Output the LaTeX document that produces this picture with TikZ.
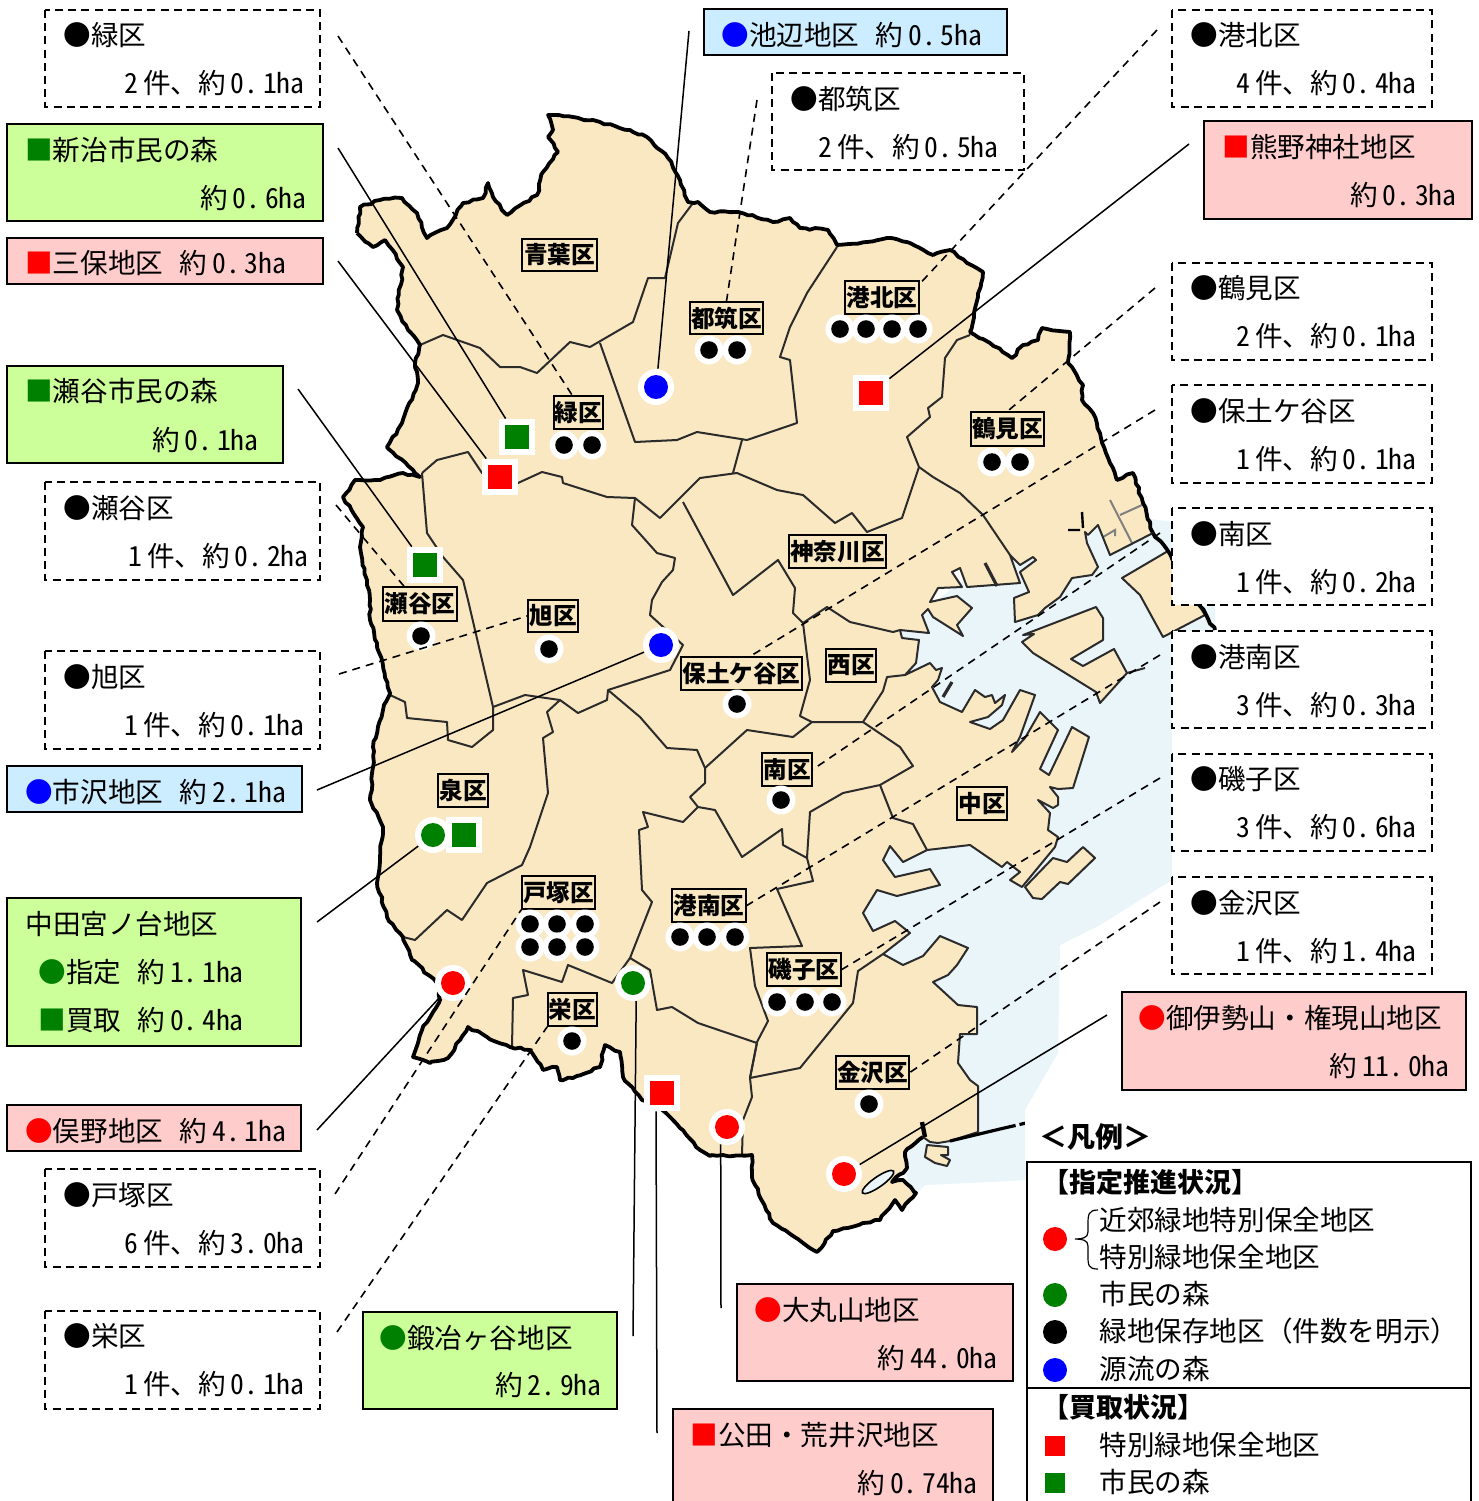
\documentclass[tikz,border=0pt]{standalone}
\usepackage{fontspec}
\usetikzlibrary{decorations.pathmorphing}
\setmainfont{Noto Sans CJK JP}
\newfontfamily\hwf[RawFeature=+hwid]{Noto Sans CJK JP}
\newcommand{\hwn}[1]{{\hwf\spaceskip=.17em\relax\xspaceskip=.17em\relax #1}}
\definecolor{landc}{HTML}{F9E8C2}
\definecolor{seac}{HTML}{EAF5FA}
\definecolor{gbox}{HTML}{CCFF99}
\definecolor{pbox}{HTML}{FFCCCC}
\definecolor{bbox}{HTML}{CCECFF}
\definecolor{mgreen}{HTML}{008000}
\definecolor{bordc}{HTML}{2B2B2B}
\tikzset{
  land/.style={fill=landc},
  coast/.style={draw=black,line width=1.9pt,line join=round,decorate,decoration={random steps,segment length=2.6pt,amplitude=.55pt}},
  thincoast/.style={draw=bordc,line width=1pt,line join=round},
  bord/.style={draw=bordc,line width=1pt,line join=round},
  conn/.style={draw=black,line width=.75pt},
  dconn/.style={draw=black,line width=.8pt,dash pattern=on 4pt off 3pt},
  dbox/.style={draw=black,line width=.8pt,dash pattern=on 4pt off 2.6pt,fill=white},
  sbox/.style={draw=black,line width=.75pt},
  txt/.style={inner sep=0pt,font=\fontsize{13.8}{16}\selectfont,text height=.99em,text depth=.01em},
  lbl/.style={draw=black,line width=.8pt,fill=landc,inner sep=0pt,font=\fontsize{11.8}{14}\bfseries\selectfont},
  dot/.style={circle,fill=white,inner sep=0pt,minimum size=14.5pt,path picture={\fill[black] (path picture bounding box.center) circle (4.4pt);}},
  bigdot/.style={circle,fill=white,inner sep=0pt,minimum size=18pt,path picture={\fill[#1] (path picture bounding box.center) circle (6pt);}},
  sqm/.style={rectangle,fill=white,inner sep=0pt,minimum size=18pt,path picture={\fill[#1] ([xshift=-6pt,yshift=-6pt]path picture bounding box.center) rectangle ([xshift=6pt,yshift=6pt]path picture bounding box.center);}},
}
\def\coastN{(357,233) -- (360,207) -- (380,200) -- (402,198) -- (417,213) -- (427,238) -- (447,228) -- (463,203) -- (483,198) -- (488,183) -- (493,197) -- (507,215) -- (537,195) -- (543,172) -- (558,152) -- (548,137) -- (553,130) -- (548,115) -- (573,117) -- (600,122) -- (633,132) -- (647,137) -- (668,158) -- (680,180) -- (688,202) -- (698,202) -- (710,212) -- (738,212) -- (773,222) -- (790,218) -- (800,228) -- (828,230) -- (837,245) -- (867,242) -- (887,238) -- (910,243) -- (933,255) -- (950,250) -- (967,263) -- (983,272) -- (978,297) -- (970,332) -- (990,343) -- (1012,358) -- (1023,345) -- (1038,340) -- (1042,328) -- (1070,332) -- (1068,363) -- (1083,385) -- (1082,400) -- (1093,413) -- (1100,433) -- (1110,463) -- (1117,480) -- (1133,473) -- (1143,503) -- (1153,533)}
\def\harbor{(1153,533) -- (1110,555) -- (1098,525) -- (1088,535) -- (1085,532) -- (1087,543) -- (1098,567) -- (1092,575) -- (1072,578) -- (1060,597) -- (1045,608) -- (1038,615) -- (1015,622) -- (1014,598) -- (1029,592) -- (1020,572) -- (1036,560) -- (1033,557) -- (1020,565) -- (1010,555) -- (1020,583) -- (967,587) -- (960,568) -- (952,572) -- (962,587) -- (938,588) -- (930,602) -- (957,596) -- (972,608) -- (957,625) -- (963,636) -- (933,617) -- (928,609) -- (922,615) -- (929,633) -- (900,630) -- (902,638) -- (919,640) -- (916,663) -- (905,675) -- (930,663) -- (936,670) -- (942,668) -- (938,680) -- (932,687) -- (940,702) -- (962,712) -- (975,690) -- (985,697) -- (992,695) -- (995,703) -- (1005,695) -- (1002,705) -- (988,717) -- (970,722) -- (990,729) -- (1003,720) -- (1020,690) -- (1035,695) -- (1020,737) -- (1012,752) -- (1025,738) -- (1040,712) -- (1058,730) -- (1040,769) -- (1049,775) -- (1072,727) -- (1089,737) -- (1073,788) -- (1058,789) -- (1050,787) -- (1058,797) -- (1058,805) -- (1053,808) -- (1038,800) -- (1050,813) -- (1048,830) -- (1058,837) -- (1055,847) -- (1022,887) -- (1010,880) -- (1020,872) -- (1007,862) -- (1002,867) -- (970,845) -- (927,850) -- (903,862) -- (890,846) -- (883,860) -- (895,877) -- (930,869) -- (940,885) -- (897,896) -- (877,890) -- (863,913) -- (873,931) -- (895,921) -- (910,933) -- (883,954) -- (903,965) -- (923,956) -- (940,936) -- (968,948) -- (957,965) -- (948,975) -- (933,982) -- (958,1005) -- (977,1007) -- (977,1034) -- (960,1034) -- (958,1063) -- (970,1080) -- (978,1086) -- (978,1132) -- (950,1141) -- (938,1143) -- (930,1142) -- (923,1137)}
\def\coastS{(923,1137) -- (905,1152) -- (907,1168) -- (892,1182) -- (903,1180) -- (916,1193) -- (902,1210) -- (895,1200) -- (880,1220) -- (863,1223) -- (833,1231) -- (817,1252) -- (803,1243) -- (773,1223) -- (752,1177) -- (752,1155) -- (733,1156) -- (723,1155) -- (710,1156) -- (700,1150) -- (680,1128) -- (660,1108) -- (642,1100) -- (623,1077) -- (620,1052) -- (605,1045) -- (600,1067) -- (573,1078) -- (560,1080) -- (557,1067) -- (543,1070) -- (530,1050) -- (510,1047) -- (487,1037) -- (468,1027) -- (448,1058) -- (430,1063) -- (413,1057) -- (422,1030) -- (440,1000) -- (437,983) -- (412,960) -- (403,937) -- (387,917) -- (377,883) -- (380,857) -- (383,827) -- (370,800) -- (373,767) -- (373,747) -- (383,710) -- (390,693) -- (377,643) -- (370,620) -- (370,600) -- (360,547) -- (363,527) -- (343,497) -- (355,480) -- (380,480) -- (403,473) -- (420,477) -- (387,447) -- (402,423) -- (418,383) -- (415,363) -- (420,345) -- (408,330) -- (397,310) -- (403,267) -- (385,240) -- (373,247) -- (357,233)}
\edef\wholeland{\coastN -- \harbor -- \coastS -- cycle}
% helper: info-box text
\newcommand{\infotxt}[6]{%
  \node[txt,anchor=west,xshift=-.5pt] (#1a) at (#2,#3) {#4};
  \node[txt,anchor=east,xshift=1pt] (#1b) at (#5) {#6};}
\begin{document}
\begin{tikzpicture}[x=.5pt,y=-.5pt]
\useasboundingbox (0,0) rectangle (1479,1501);
% sea
\fill[seac] (900,630) -- (1000,550) -- (1090,510) -- (1172,522) -- (1172,606) -- (1215,606) -- (1215,632) -- (1172,632) -- (1172,880) -- (1100,925) -- (1060,945) -- (1058,1053) -- (1025,1110) -- (1027,1180) -- (990,1182) -- (925,1185) -- (910,1200) -- (880,1000) -- (860,900) -- cycle;
% land
\fill[land] \wholeland;
\filldraw[land,thincoast] (1122,578) -- (1168,551) -- (1200,607) -- (1205,615) -- (1163,637) -- (1140,595) -- cycle;
\filldraw[land,thincoast] (1023,635) -- (1096,607) -- (1103,618) -- (1103,640) -- (1071,659) -- (1083,666) -- (1114,649) -- (1127,673) -- (1100,703) -- (1096,692) -- (1033,653) -- (1022,642) -- (1034,634) -- cycle;
\draw[thincoast] (1127,673) -- (1145,668);
\filldraw[land,thincoast] (1025,887) -- (1053,858) -- (1067,862) -- (1083,847) -- (1095,858) -- (1068,884) -- (1060,882) -- (1042,899) -- (1033,898) -- cycle;
\filldraw[land,thincoast] (927,1145) -- (948,1147) -- (948,1155) -- (941,1155) -- (950,1160) -- (947,1166) -- (935,1163) -- (925,1157) -- cycle;
% district borders
\draw[bord] (420,345) -- (443,335) -- (480,348) -- (500,367) -- (520,367) -- (537,373) -- (570,342) -- (590,347) -- (633,322) -- (648,278) -- (665,278) -- (678,223) -- (693,203);
\draw[bord] (600,343) -- (635,442) -- (677,440) -- (697,432) -- (747,440) -- (797,423) -- (790,360) -- (780,357) -- (790,327) -- (807,293) -- (837,247);
\draw[bord] (422,473) -- (437,460) -- (468,452) -- (482,473) -- (518,483) -- (542,472) -- (562,477) -- (563,483) -- (607,497) -- (635,498) -- (660,518) -- (700,478) -- (737,473) -- (777,490) -- (803,495) -- (835,523) -- (852,513) -- (867,532) -- (902,518) -- (919,467);
\draw[bord] (742,440) -- (733,473);
\draw[bord] (635,498) -- (632,525) -- (657,553) -- (675,558) -- (673,570) -- (662,582) -- (652,600) -- (650,615) -- (683,645) -- (670,670) -- (608,690) -- (607,700) -- (578,713) -- (560,700) -- (525,695) -- (493,707);
\draw[bord] (422,473) -- (427,533) -- (443,557) -- (463,580) -- (468,600) -- (493,707) -- (493,730) -- (472,747) -- (448,740) -- (447,722) -- (407,718) -- (405,702) -- (390,695);
\draw[bord] (560,700) -- (547,712) -- (553,732) -- (543,738) -- (548,793) -- (530,847) -- (522,865) -- (487,883) -- (462,920) -- (447,910) -- (415,940) -- (403,937);
\draw[bord] (608,690) -- (640,717) -- (667,748) -- (697,750) -- (705,768) -- (705,783) -- (690,797) -- (698,807) -- (683,822) -- (643,812) -- (648,827) -- (639,830) -- (642,890) -- (652,902) -- (630,958) -- (650,970) -- (657,1010) -- (672,1007) -- (698,1023) -- (757,1043) -- (750,1078);
\draw[bord] (630,958) -- (612,983) -- (568,965) -- (562,982) -- (523,970) -- (528,995) -- (513,998) -- (512,1047);
\draw[bord] (705,768) -- (747,730) -- (793,737) -- (812,722) -- (863,722) -- (900,747) -- (913,766) -- (880,785) -- (843,793) -- (810,812) -- (807,858) -- (813,881) -- (777,889) -- (802,946) -- (750,948) -- (755,986) -- (768,1021) -- (757,1042) -- (750,1078) -- (752,1097) -- (743,1120) -- (742,1155);
\draw[bord] (698,807) -- (715,810) -- (742,857) -- (782,829) -- (783,845) -- (807,858);
\draw[bord] (880,785) -- (893,818) -- (913,824) -- (927,850);
\draw[bord] (750,1078) -- (800,1068) -- (853,1003) -- (858,971) -- (883,954);
\draw[bord] (812,722) -- (800,716) -- (810,680) -- (803,623) -- (827,607) -- (850,622) -- (893,632) -- (900,630);
\draw[bord] (803,623) -- (793,613) -- (795,588) -- (778,560) -- (733,595) -- (683,502);
\draw[bord] (863,722) -- (883,691) -- (887,677) -- (905,675);
\draw[bord] (970,335) -- (957,340) -- (945,358) -- (942,397) -- (928,408) -- (930,417) -- (907,437) -- (919,467) -- (933,477) -- (960,493) -- (983,515) -- (1010,555);
% small piers and canals
\draw[draw=gray,line width=1pt] (1110,500) -- (1132,543) (1120,515) -- (1142,505) (1103,537) -- (1115,530) -- (1115,536);
\draw[draw=black,line width=1.2pt] (1082,512) -- (1083,528) (1068,530) -- (1080,530);
\draw[draw=bordc,line width=1.6pt] (985,563) -- (997,586) (943,697) -- (952,682);
% coast
\draw[coast] \coastN;
\draw[coast] \coastS;
\draw[thincoast] \harbor;
\draw[coast] (1153,533) -- (1168,551) -- (1215,630);
\draw[draw=black,line width=1.6pt] (950,1141) -- (1000,1129);
\draw[draw=black,line width=1.6pt,dash pattern=on 8pt off 2pt] (1000,1129) -- (1026,1123);
\draw[draw=black,line width=2.2pt] (922,1122) -- (925,1137);
\filldraw[fill=seac,draw=black,line width=.8pt,rotate around={35:(878,1182)}] (878,1182) ellipse (19 and 5);
% legend background
\fill[white] (1025,1110) rectangle (1479,1162);

% district labels
\node[lbl,minimum width=37.5pt,minimum height=16pt] (lAoba) at (559.5,255) {青葉区};
\node[lbl,minimum width=36.5pt,minimum height=16pt] (lTsuzuki) at (726.5,318) {都筑区};
\node[lbl,minimum width=37pt,minimum height=16.5pt] (lKohoku) at (882,297.5) {港北区};
\node[lbl,minimum width=24.5pt,minimum height=16.5pt] (lMidori) at (578.5,412.5) {緑区};
\node[lbl,minimum width=36.5pt,minimum height=17pt] (lTsurumi) at (1007.5,429) {鶴見区};
\node[lbl,minimum width=48.5pt,minimum height=16.5pt] (lKanagawa) at (837.5,551.5) {神奈川区};
\node[lbl,minimum width=37pt,minimum height=17pt] (lSeya) at (420,604) {瀬谷区};
\node[lbl,minimum width=25pt,minimum height=16pt] (lAsahi) at (553,616) {旭区};
\node[lbl,minimum width=60.5pt,minimum height=16.5pt] (lHodogaya) at (741.5,673.5) {保土ケ谷区};
\node[lbl,minimum width=25pt,minimum height=16.5pt] (lNishi) at (851,665.5) {西区};
\node[lbl,minimum width=25pt,minimum height=16.5pt] (lMinami) at (787,769.5) {南区};
\node[lbl,minimum width=25pt,minimum height=16.5pt] (lIzumi) at (463,790.5) {泉区};
\node[lbl,minimum width=25pt,minimum height=16.5pt] (lNaka) at (982,803.5) {中区};
\node[lbl,minimum width=36.5pt,minimum height=16.5pt] (lTotsuka) at (558.5,892.5) {戸塚区};
\node[lbl,minimum width=37pt,minimum height=16.5pt] (lKonan) at (709,905.5) {港南区};
\node[lbl,minimum width=37pt,minimum height=16.5pt] (lIsogo) at (804,969.5) {磯子区};
\node[lbl,minimum width=24.5pt,minimum height=16.5pt] (lSakae) at (572.5,1009.5) {栄区};
\node[lbl,minimum width=36.5pt,minimum height=16.5pt] (lKanazawa) at (872.5,1072.5) {金沢区};

% markers
\foreach \nm/\x/\y in {a1/709/350,a2/737/350,b1/840/329,b2/866/329,b3/892/329,b4/918/329,c1/564/445,c2/592/445,d1/992/462,d2/1020/462,e1/421/636,f1/549/649,g1/737/704,h1/781/800,i1/530/924,i2/557/924,i3/585/924,i4/530/947,i5/557/947,i6/585/947,j1/680/937,j2/707/937,j3/735/937,k1/777/1002,k2/805/1002,k3/832/1002,m1/572/1041,n1/869/1104}
  \node[dot] (dot\nm) at (\x,\y) {};
\node[bigdot=blue] (mIkebe) at (656,387) {};
\node[bigdot=blue] (mIchi) at (661,645) {};
\node[bigdot=mgreen] (mNakata) at (433,835) {};
\node[bigdot=mgreen] (mKaji) at (633,983) {};
\node[bigdot=red] (mMata) at (453,983) {};
\node[bigdot=red] (mOmaru) at (727,1127) {};
\node[bigdot=red] (mOise) at (844,1174) {};
\node[sqm=mgreen] (mNiiharu) at (517,437) {};
\node[sqm=red] (mMiho) at (500,477) {};
\node[sqm=mgreen] (mSeya) at (425,565) {};
\node[sqm=red] (mKumano) at (871,393) {};
\node[sqm=mgreen] (mNakataS) at (464,835) {};
\node[sqm=red] (mKuden) at (662,1093) {};

% free ends of connectors
\foreach \nm/\x/\y in {cA/689/31,cB/1189/144,cC/338/148,cD/338/261,cE/298/389,cF/317/790,cG/317/922,cH/317/1130,cI/633/1336,cJ/657/1433,cK/721/1308,cL/1107/1015,
 dA/338/36,dB/757/100,dC/1157/30,dD/1155/288,dE/1155/410,dF/1160/533,dG/1160/655,dH/1160/778,dI/1160/902,dJ/336/505,dK/339/674,dL/335/1194,dM/337/1332}
  \coordinate (\nm) at (\x,\y);
\draw[conn] (cA) -- (mIkebe.84);
\draw[conn] (cB) -- (mKumano);
\draw[conn] (cC) -- (mNiiharu);
\draw[conn] (cD) -- (mMiho);
\draw[conn] (cE) -- (mSeya);
\draw[conn] (cF) -- (mIchi);
\draw[conn] (cG) -- (mNakata);
\draw[conn] (cH) -- (mMata);
\draw[conn] (cI) -- (mKaji.280);
\draw[conn] (cJ) -- (mKuden.252);
\draw[conn] (cK) -- (mOmaru.250);
\draw[conn] (cL) -- (mOise);
\draw[dconn] (dA) -- (lMidori.110);
\draw[dconn] (dB) -- (lTsuzuki.north);
\draw[dconn] (dC) -- (lKohoku.20);
\draw[dconn] (dD) -- (lTsurumi.north);
\draw[dconn] (dE) -- (lHodogaya.63);
\draw[dconn] (dF) -- (lMinami.east);
\draw[dconn] (dG) -- (lKonan.east);
\draw[dconn] (dH) -- (lIsogo.east);
\draw[dconn] (dI) -- (lKanazawa.east);
\draw[dconn] (dJ) -- (lSeya.132);
\draw[dconn] (dK) -- (lAsahi.west);
\draw[dconn] (dL) -- (lTotsuka.south west);
\draw[dconn] (dM) -- (lSakae.south west);

% dashed ward boxes
\draw[dbox] (45,10) rectangle (320,107);
\infotxt{bMidori}{64}{36}{●緑区}{303,84}{\hwn{2 }件、約\hwn{ 0. 1ha}}
\draw[dbox] (772,73) rectangle (1024,170);
\infotxt{bTsuzuki}{791}{100}{●都筑区}{997,148}{\hwn{2 }件、約\hwn{ 0. 5ha}}
\draw[dbox] (1172,10) rectangle (1432,107);
\infotxt{bKohoku}{1191}{36}{●港北区}{1415,84}{\hwn{4 }件、約\hwn{ 0. 4ha}}
\draw[dbox] (1172,263) rectangle (1432,360);
\infotxt{bTsurumi}{1191}{289}{●鶴見区}{1415,337}{\hwn{2 }件、約\hwn{ 0. 1ha}}
\draw[dbox] (1172,385) rectangle (1432,483);
\infotxt{bHodo}{1191}{412}{●保土ケ谷区}{1415,460}{\hwn{1 }件、約\hwn{ 0. 1ha}}
\draw[dbox] (1172,508) rectangle (1432,605);
\infotxt{bMinami}{1191}{535}{●南区}{1415,583}{\hwn{1 }件、約\hwn{ 0. 2ha}}
\draw[dbox] (1172,631) rectangle (1432,728);
\infotxt{bKonan}{1191}{658}{●港南区}{1415,706}{\hwn{3 }件、約\hwn{ 0. 3ha}}
\draw[dbox] (1172,754) rectangle (1432,851);
\infotxt{bIsogo}{1191}{780}{●磯子区}{1415,828}{\hwn{3 }件、約\hwn{ 0. 6ha}}
\draw[dbox] (1172,877) rectangle (1432,974);
\infotxt{bKana}{1191}{904}{●金沢区}{1415,952}{\hwn{1 }件、約\hwn{ 1. 4ha}}
\draw[dbox] (45,482) rectangle (320,580);
\infotxt{bSeya}{64}{509}{●瀬谷区}{307,557}{\hwn{1 }件、約\hwn{ 0. 2ha}}
\draw[dbox] (45,651) rectangle (320,749);
\infotxt{bAsahi}{64}{678}{●旭区}{303,726}{\hwn{1 }件、約\hwn{ 0. 1ha}}
\draw[dbox] (45,1169) rectangle (320,1267);
\infotxt{bTotsuka}{64}{1196}{●戸塚区}{303,1244}{\hwn{6 }件、約\hwn{ 3. 0ha}}
\draw[dbox] (45,1311) rectangle (320,1409);
\infotxt{bSakae}{64}{1337}{●栄区}{303,1385}{\hwn{1 }件、約\hwn{ 0. 1ha}}

% coloured site boxes
\draw[sbox,fill=gbox] (7,124) rectangle (323,221);
\infotxt{sNii}{26}{151}{\textcolor{mgreen}{■}新治市民の森}{305,199}{約\hwn{ 0. 6ha}}
\draw[sbox,fill=pbox] (7,238) rectangle (323,284);
\node[txt,anchor=west] (sMiho) at (25,264) {\textcolor{red}{■}三保地区\hspace{.6em}約\hwn{ 0. 3ha}};
\draw[sbox,fill=gbox] (7,366) rectangle (283,463);
\infotxt{sSeya}{26}{392}{\textcolor{mgreen}{■}瀬谷市民の森}{257,441}{約\hwn{ 0. 1ha}}
\draw[sbox,fill=bbox] (7,766) rectangle (302,812);
\node[txt,anchor=west] (sIchi) at (25,793) {\textcolor{blue}{●}市沢地区\hspace{.6em}約\hwn{ 2. 1ha}};
\draw[sbox,fill=gbox] (7,898) rectangle (301,1046);
\node[txt,anchor=west] (sNak1) at (25,925) {中田宮ノ台地区};
\node[txt,anchor=west] (sNak2) at (38,973) {\textcolor{mgreen}{●}指定\hspace{.6em}約\hwn{ 1. 1ha}};
\node[txt,anchor=west] (sNak3) at (38,1021) {\textcolor{mgreen}{■}買取\hspace{.6em}約\hwn{ 0. 4ha}};
\draw[sbox,fill=pbox] (7,1105) rectangle (301,1151);
\node[txt,anchor=west] (sMata) at (25,1132) {\textcolor{red}{●}俣野地区\hspace{.6em}約\hwn{ 4. 1ha}};
\draw[sbox,fill=bbox] (704,9) rectangle (1007,55);
\node[txt,anchor=west] (sIke) at (721,36) {\textcolor{blue}{●}池辺地区\hspace{.6em}約\hwn{ 0. 5ha}};
\draw[sbox,fill=pbox] (1204,121) rectangle (1472,219);
\infotxt{sKum}{1223}{148}{\textcolor{red}{■}熊野神社地区}{1455,196}{約\hwn{ 0. 3ha}}
\draw[sbox,fill=pbox] (1122,992) rectangle (1466,1090);
\infotxt{sOise}{1139}{1019}{\textcolor{red}{●}御伊勢山・権現山地区}{1448,1067}{約\hwn{ 11. 0ha}}
\draw[sbox,fill=pbox] (737,1284) rectangle (1013,1381);
\infotxt{sOma}{755}{1311}{\textcolor{red}{●}大丸山地区}{996,1359}{約\hwn{ 44. 0ha}}
\draw[sbox,fill=gbox] (363,1312) rectangle (617,1409);
\infotxt{sKaji}{380}{1339}{\textcolor{mgreen}{●}鍛冶ヶ谷地区}{600,1386}{約\hwn{ 2. 9ha}}
\draw[sbox,fill=pbox] (673,1409) rectangle (993,1503);
\infotxt{sKud}{691}{1436}{\textcolor{red}{■}公田・荒井沢地区}{976,1484}{約\hwn{ 0. 74ha}}

% legend
\node[txt,anchor=west,font=\fontsize{14}{16}\bfseries\selectfont] (lgTitle) at (1039,1138) {＜凡例＞};
\draw[sbox,fill=white] (1027,1162) rectangle (1471,1503);
\draw[sbox] (1027,1388) -- (1471,1388);
\node[txt,anchor=west,font=\fontsize{13.5}{16}\bfseries\selectfont] (lgA) at (1042,1183) {【指定推進状況】};
\node[txt,anchor=west,font=\fontsize{13.5}{16}\bfseries\selectfont] (lgB) at (1042,1408) {【買取状況】};
\fill[red] (1055,1239) circle (6pt);
\draw[draw=black,line width=.6pt] (1098,1210) .. controls (1088,1210) and (1088,1215) .. (1088,1225) -- (1088,1232) .. controls (1088,1238) and (1082,1239) .. (1075,1239) .. controls (1082,1239) and (1088,1240) .. (1088,1246) -- (1088,1255) .. controls (1088,1265) and (1088,1269) .. (1098,1269);
\fill[mgreen] (1055,1295) circle (6pt);
\fill[black] (1055,1332) circle (6pt);
\fill[blue] (1055,1370) circle (6pt);
\fill[red] (1045,1436) rectangle (1065,1456);
\fill[mgreen] (1045,1473) rectangle (1065,1493);
\node[txt,anchor=west] (lg1) at (1099,1221) {近郊緑地特別保全地区};
\node[txt,anchor=west] (lg2) at (1099,1258) {特別緑地保全地区};
\node[txt,anchor=west] (lg3) at (1099,1295) {市民の森};
\node[txt,anchor=west] (lg4) at (1099,1332) {緑地保存地区（件数を明示）};
\node[txt,anchor=west] (lg5) at (1099,1370) {源流の森};
\node[txt,anchor=west] (lg6) at (1099,1446) {特別緑地保全地区};
\node[txt,anchor=west] (lg7) at (1099,1483) {市民の森};
\end{tikzpicture}
\end{document}
